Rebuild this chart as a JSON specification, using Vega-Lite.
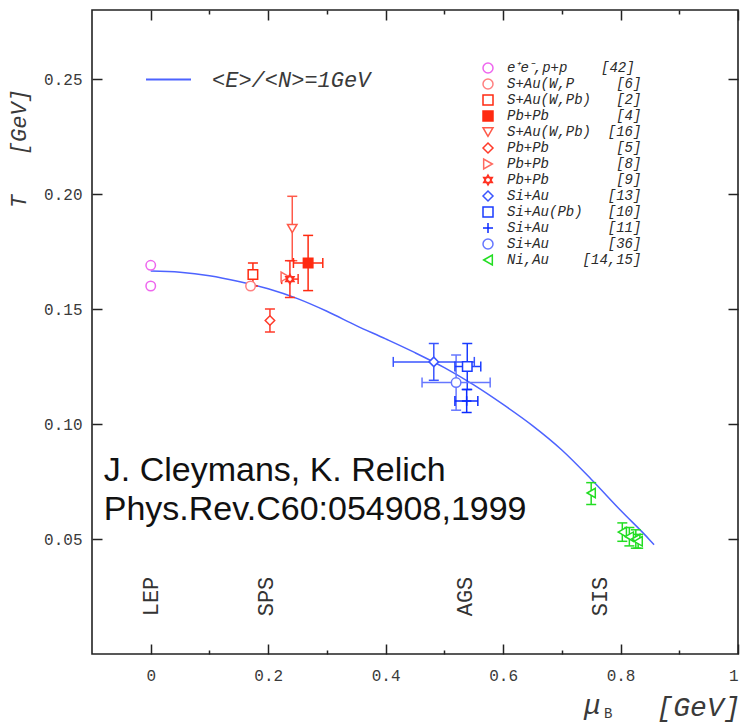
{
  "$schema": "https://vega.github.io/schema/vega-lite/v6.json",
  "width": 646,
  "height": 644,
  "autosize": {"type": "none"},
  "padding": {"left": 92, "top": 10, "right": 2, "bottom": 69},
  "background": "white",
  "config": {
    "view": {"stroke": "#222222", "strokeWidth": 1.6},
    "axis": {
      "domain": false,
      "grid": false,
      "labelFont": "Liberation Mono",
      "labelFontSize": 16,
      "labelColor": "#3a3a3a",
      "tickColor": "#222222",
      "tickWidth": 1.5
    },
    "legend": {
      "title": null,
      "padding": 0,
      "labelFont": "Liberation Mono",
      "labelFontStyle": "italic"
    }
  },
  "datasets": {
    "curve": [
      {"mu": 0.0, "T": 0.1665},
      {"mu": 0.05, "T": 0.166},
      {"mu": 0.1, "T": 0.1645},
      {"mu": 0.15, "T": 0.162},
      {"mu": 0.2, "T": 0.1588},
      {"mu": 0.25, "T": 0.1545},
      {"mu": 0.3, "T": 0.149},
      {"mu": 0.35, "T": 0.1428},
      {"mu": 0.4, "T": 0.137},
      {"mu": 0.45, "T": 0.131},
      {"mu": 0.5, "T": 0.1245},
      {"mu": 0.55, "T": 0.117},
      {"mu": 0.6, "T": 0.1085},
      {"mu": 0.65, "T": 0.0993},
      {"mu": 0.7, "T": 0.0887},
      {"mu": 0.75, "T": 0.076},
      {"mu": 0.8, "T": 0.0625},
      {"mu": 0.85, "T": 0.0495},
      {"mu": 0.857, "T": 0.0475}
    ],
    "points": [
      {"series": "e\u207ae\u207b,p+p\u00a0\u00a0\u00a0\u00a0[42]", "mu": 0.0, "T": 0.169},
      {"series": "e\u207ae\u207b,p+p\u00a0\u00a0\u00a0\u00a0[42]", "mu": 0.0, "T": 0.16},
      {"series": "S+Au(W,P\u00a0\u00a0\u00a0\u00a0\u00a0[6]", "mu": 0.17, "T": 0.16},
      {"series": "S+Au(W,Pb)\u00a0\u00a0\u00a0[2]", "mu": 0.174, "T": 0.165, "tlo": 0.16, "thi": 0.17},
      {"series": "S+Au(W,Pb)\u00a0\u00a0[16]", "mu": 0.241, "T": 0.185, "tlo": 0.171, "thi": 0.199},
      {"series": "Pb+Pb\u00a0\u00a0\u00a0\u00a0\u00a0\u00a0\u00a0\u00a0[5]", "mu": 0.203, "T": 0.145, "tlo": 0.14, "thi": 0.15},
      {"series": "Pb+Pb\u00a0\u00a0\u00a0\u00a0\u00a0\u00a0\u00a0\u00a0[8]", "mu": 0.229, "T": 0.164},
      {"series": "Pb+Pb\u00a0\u00a0\u00a0\u00a0\u00a0\u00a0\u00a0\u00a0[9]", "mu": 0.237, "T": 0.163, "tlo": 0.155, "thi": 0.171, "mulo": 0.223, "muhi": 0.251},
      {"series": "Pb+Pb\u00a0\u00a0\u00a0\u00a0\u00a0\u00a0\u00a0\u00a0[4]", "mu": 0.268, "T": 0.17, "tlo": 0.158, "thi": 0.182, "mulo": 0.243, "muhi": 0.293},
      {"series": "Si+Au\u00a0\u00a0\u00a0\u00a0\u00a0\u00a0\u00a0[13]", "mu": 0.482, "T": 0.127, "tlo": 0.119, "thi": 0.135, "mulo": 0.413, "muhi": 0.551},
      {"series": "Si+Au\u00a0\u00a0\u00a0\u00a0\u00a0\u00a0\u00a0[36]", "mu": 0.52, "T": 0.118, "tlo": 0.106, "thi": 0.13, "mulo": 0.462, "muhi": 0.578},
      {"series": "Si+Au(Pb)\u00a0\u00a0\u00a0[10]", "mu": 0.539, "T": 0.125, "tlo": 0.115, "thi": 0.135, "mulo": 0.518, "muhi": 0.562},
      {"series": "Si+Au\u00a0\u00a0\u00a0\u00a0\u00a0\u00a0\u00a0[11]", "mu": 0.538, "T": 0.11, "tlo": 0.105, "thi": 0.115, "mulo": 0.518, "muhi": 0.557},
      {"series": "Ni,Au\u00a0\u00a0\u00a0\u00a0[14,15]", "mu": 0.75, "T": 0.07, "tlo": 0.065, "thi": 0.0745},
      {"series": "Ni,Au\u00a0\u00a0\u00a0\u00a0[14,15]", "mu": 0.803, "T": 0.053, "tlo": 0.049, "thi": 0.057},
      {"series": "Ni,Au\u00a0\u00a0\u00a0\u00a0[14,15]", "mu": 0.815, "T": 0.051, "tlo": 0.047, "thi": 0.055},
      {"series": "Ni,Au\u00a0\u00a0\u00a0\u00a0[14,15]", "mu": 0.826, "T": 0.05, "tlo": 0.046, "thi": 0.054},
      {"series": "Ni,Au\u00a0\u00a0\u00a0\u00a0[14,15]", "mu": 0.83, "T": 0.049, "tlo": 0.046, "thi": 0.052}
    ],
    "credit": [
      {"text": "J. Cleymans, K. Relich", "mu": -0.08, "T": 0.0795},
      {"text": "Phys.Rev.C60:054908,1999", "mu": -0.08, "T": 0.0628}
    ],
    "machines": [
      {"name": "LEP", "mu": 0.0, "T": 0.025},
      {"name": "SPS", "mu": 0.197, "T": 0.025},
      {"name": "AGS", "mu": 0.535, "T": 0.025},
      {"name": "SIS", "mu": 0.765, "T": 0.025}
    ],
    "symbol": [
      {"text": "\u03bc", "mu": 0.752, "T": -0.0261}
    ],
    "subscript": [
      {"text": "B", "mu": 0.779, "T": -0.0278}
    ]
  },
  "layer": [
    {
      "data": {"name": "curve"},
      "mark": {"type": "line", "strokeWidth": 1.5, "interpolate": "monotone"},
      "encoding": {
        "x": {
          "field": "mu", "type": "quantitative",
          "scale": {"domain": [-0.1, 1.0], "nice": false, "zero": false},
          "axis": {
            "orient": "bottom", "values": [0, 0.2, 0.4, 0.6, 0.8, 1], "format": "~g",
            "ticks": false, "labelPadding": 13,
            "title": "[GeV]", "titleFont": "Liberation Mono", "titleFontStyle": "italic",
            "titleFontWeight": "normal", "titleFontSize": 28, "titleColor": "#3a3a3a",
            "titleAnchor": "end", "titleAlign": "right", "titleX": 648, "titleY": 61, "titleBaseline": "alphabetic"
          }
        },
        "y": {
          "field": "T", "type": "quantitative",
          "scale": {"domain": [0, 0.28], "nice": false, "zero": false},
          "axis": {
            "orient": "left", "values": [0.05, 0.1, 0.15, 0.2, 0.25], "format": ".2f",
            "ticks": false, "labelPadding": 10,
            "title": "T\u00a0\u00a0\u00a0[GeV]", "titleFont": "Liberation Mono", "titleFontStyle": "italic",
            "titleFontWeight": "normal", "titleFontSize": 22, "titleColor": "#3a3a3a",
            "titleAngle": 270, "titleX": -74, "titleY": 138, "titleAlign": "center", "titleBaseline": "middle"
          }
        },
        "color": {
          "datum": "<E>/<N>=1GeV",
          "scale": {"range": ["#4d63ff"]},
          "legend": {
            "orient": "none", "legendX": 53, "legendY": 46,
            "symbolType": "stroke", "symbolSize": 2025, "symbolStrokeWidth": 2,
            "labelFontSize": 22, "labelColor": "#3a3a3a", "labelOffset": 20
          }
        }
      }
    },
    {
      "data": {"name": "points"},
      "transform": [{"filter": "isValid(datum.tlo)"}],
      "mark": {"type": "rule", "strokeWidth": 1.5},
      "encoding": {
        "x": {
          "field": "mu", "type": "quantitative",
          "scale": {"domain": [-0.1, 1.0], "nice": false, "zero": false},
          "axis": {"orient": "bottom", "values": [0, 0.2, 0.4, 0.6, 0.8, 1], "labels": false, "tickSize": -10, "title": null}
        },
        "y": {
          "field": "tlo", "type": "quantitative",
          "scale": {"domain": [0, 0.28], "nice": false, "zero": false},
          "axis": {"orient": "left", "values": [0.05, 0.1, 0.15, 0.2, 0.25], "labels": false, "tickSize": -10, "title": null}
        },
        "y2": {"field": "thi"},
        "stroke": {"field": "series", "type": "nominal"}
      }
    },
    {
      "data": {"name": "points"},
      "transform": [{"filter": "isValid(datum.mulo)"}],
      "mark": {"type": "rule", "strokeWidth": 1.5},
      "encoding": {
        "x": {
          "field": "mulo", "type": "quantitative",
          "scale": {"domain": [-0.1, 1.0], "nice": false, "zero": false},
          "axis": {"orient": "bottom", "values": [0.1, 0.3, 0.5, 0.7, 0.9], "labels": false, "tickSize": -4, "title": null}
        },
        "x2": {"field": "muhi"},
        "y": {
          "field": "T", "type": "quantitative",
          "scale": {"domain": [0, 0.28], "nice": false, "zero": false},
          "axis": {"orient": "right", "values": [0.05, 0.1, 0.15, 0.2, 0.25], "labels": false, "tickSize": -10, "title": null}
        },
        "stroke": {"field": "series", "type": "nominal"}
      }
    },
    {
      "data": {"name": "points"},
      "transform": [{"filter": "isValid(datum.tlo)"}],
      "mark": {"type": "point", "shape": "stroke", "size": 100, "strokeWidth": 1.5, "opacity": 1},
      "encoding": {
        "x": {
          "field": "mu", "type": "quantitative",
          "scale": {"domain": [-0.1, 1.0], "nice": false, "zero": false},
          "axis": {"orient": "top", "values": [0, 0.2, 0.4, 0.6, 0.8, 1], "labels": false, "tickSize": -10, "title": null}
        },
        "y": {"field": "tlo", "type": "quantitative", "scale": {"domain": [0, 0.28], "nice": false, "zero": false}, "axis": null},
        "stroke": {"field": "series", "type": "nominal"}
      }
    },
    {
      "data": {"name": "points"},
      "transform": [{"filter": "isValid(datum.thi)"}],
      "mark": {"type": "point", "shape": "stroke", "size": 100, "strokeWidth": 1.5, "opacity": 1},
      "encoding": {
        "x": {
          "field": "mu", "type": "quantitative",
          "scale": {"domain": [-0.1, 1.0], "nice": false, "zero": false},
          "axis": {"orient": "top", "values": [0.1, 0.3, 0.5, 0.7, 0.9], "labels": false, "tickSize": -4, "title": null}
        },
        "y": {"field": "thi", "type": "quantitative", "scale": {"domain": [0, 0.28], "nice": false, "zero": false}, "axis": null},
        "stroke": {"field": "series", "type": "nominal"}
      }
    },
    {
      "data": {"name": "points"},
      "transform": [{"filter": "isValid(datum.mulo)"}],
      "mark": {"type": "point", "shape": "M0,-1L0,1", "size": 100, "strokeWidth": 1.5, "opacity": 1},
      "encoding": {
        "x": {"field": "mulo", "type": "quantitative", "scale": {"domain": [-0.1, 1.0], "nice": false, "zero": false}, "axis": null},
        "y": {"field": "T", "type": "quantitative", "scale": {"domain": [0, 0.28], "nice": false, "zero": false}, "axis": null},
        "stroke": {"field": "series", "type": "nominal"}
      }
    },
    {
      "data": {"name": "points"},
      "transform": [{"filter": "isValid(datum.muhi)"}],
      "mark": {"type": "point", "shape": "M0,-1L0,1", "size": 100, "strokeWidth": 1.5, "opacity": 1},
      "encoding": {
        "x": {"field": "muhi", "type": "quantitative", "scale": {"domain": [-0.1, 1.0], "nice": false, "zero": false}, "axis": null},
        "y": {"field": "T", "type": "quantitative", "scale": {"domain": [0, 0.28], "nice": false, "zero": false}, "axis": null},
        "stroke": {"field": "series", "type": "nominal"}
      }
    },
    {
      "data": {"name": "points"},
      "mark": {"type": "point", "size": 90, "strokeWidth": 1.5, "opacity": 1},
      "encoding": {
        "x": {"field": "mu", "type": "quantitative", "scale": {"domain": [-0.1, 1.0], "nice": false, "zero": false}, "axis": null},
        "y": {"field": "T", "type": "quantitative", "scale": {"domain": [0, 0.28], "nice": false, "zero": false}, "axis": null},
        "stroke": {
          "field": "series", "type": "nominal",
          "scale": {
            "domain": [
              "e\u207ae\u207b,p+p\u00a0\u00a0\u00a0\u00a0[42]",
              "S+Au(W,P\u00a0\u00a0\u00a0\u00a0\u00a0[6]",
              "S+Au(W,Pb)\u00a0\u00a0\u00a0[2]",
              "Pb+Pb\u00a0\u00a0\u00a0\u00a0\u00a0\u00a0\u00a0\u00a0[4]",
              "S+Au(W,Pb)\u00a0\u00a0[16]",
              "Pb+Pb\u00a0\u00a0\u00a0\u00a0\u00a0\u00a0\u00a0\u00a0[5]",
              "Pb+Pb\u00a0\u00a0\u00a0\u00a0\u00a0\u00a0\u00a0\u00a0[8]",
              "Pb+Pb\u00a0\u00a0\u00a0\u00a0\u00a0\u00a0\u00a0\u00a0[9]",
              "Si+Au\u00a0\u00a0\u00a0\u00a0\u00a0\u00a0\u00a0[13]",
              "Si+Au(Pb)\u00a0\u00a0\u00a0[10]",
              "Si+Au\u00a0\u00a0\u00a0\u00a0\u00a0\u00a0\u00a0[11]",
              "Si+Au\u00a0\u00a0\u00a0\u00a0\u00a0\u00a0\u00a0[36]",
              "Ni,Au\u00a0\u00a0\u00a0\u00a0[14,15]"
            ],
            "range": ["#ee66ee", "#ff8080", "#ff2a10", "#ff2a10", "#ff5a4a", "#ff3a2a", "#ff6a60", "#ff3020", "#3a55ff", "#1a3cff", "#0a2aff", "#6677ff", "#22dd22"]
          },
          "legend": {
            "orient": "none", "legendX": 389, "legendY": 51,
            "symbolSize": 100, "symbolStrokeWidth": 1.5, "rowPadding": 0,
            "labelFontSize": 14, "labelColor": "#2a2a2a", "labelOffset": 12
          }
        },
        "fill": {
          "field": "series", "type": "nominal",
          "scale": {
            "domain": [
              "e\u207ae\u207b,p+p\u00a0\u00a0\u00a0\u00a0[42]",
              "S+Au(W,P\u00a0\u00a0\u00a0\u00a0\u00a0[6]",
              "S+Au(W,Pb)\u00a0\u00a0\u00a0[2]",
              "Pb+Pb\u00a0\u00a0\u00a0\u00a0\u00a0\u00a0\u00a0\u00a0[4]",
              "S+Au(W,Pb)\u00a0\u00a0[16]",
              "Pb+Pb\u00a0\u00a0\u00a0\u00a0\u00a0\u00a0\u00a0\u00a0[5]",
              "Pb+Pb\u00a0\u00a0\u00a0\u00a0\u00a0\u00a0\u00a0\u00a0[8]",
              "Pb+Pb\u00a0\u00a0\u00a0\u00a0\u00a0\u00a0\u00a0\u00a0[9]",
              "Si+Au\u00a0\u00a0\u00a0\u00a0\u00a0\u00a0\u00a0[13]",
              "Si+Au(Pb)\u00a0\u00a0\u00a0[10]",
              "Si+Au\u00a0\u00a0\u00a0\u00a0\u00a0\u00a0\u00a0[11]",
              "Si+Au\u00a0\u00a0\u00a0\u00a0\u00a0\u00a0\u00a0[36]",
              "Ni,Au\u00a0\u00a0\u00a0\u00a0[14,15]"
            ],
            "range": ["white", "white", "white", "#ff2a10", "white", "white", "white", "white", "white", "white", "white", "white", "white"]
          },
          "legend": {
            "orient": "none", "legendX": 389, "legendY": 51,
            "symbolSize": 100, "symbolStrokeWidth": 1.5, "rowPadding": 0,
            "labelFontSize": 14, "labelColor": "#2a2a2a", "labelOffset": 12
          }
        },
        "shape": {
          "field": "series", "type": "nominal",
          "scale": {
            "domain": [
              "e\u207ae\u207b,p+p\u00a0\u00a0\u00a0\u00a0[42]",
              "S+Au(W,P\u00a0\u00a0\u00a0\u00a0\u00a0[6]",
              "S+Au(W,Pb)\u00a0\u00a0\u00a0[2]",
              "Pb+Pb\u00a0\u00a0\u00a0\u00a0\u00a0\u00a0\u00a0\u00a0[4]",
              "S+Au(W,Pb)\u00a0\u00a0[16]",
              "Pb+Pb\u00a0\u00a0\u00a0\u00a0\u00a0\u00a0\u00a0\u00a0[5]",
              "Pb+Pb\u00a0\u00a0\u00a0\u00a0\u00a0\u00a0\u00a0\u00a0[8]",
              "Pb+Pb\u00a0\u00a0\u00a0\u00a0\u00a0\u00a0\u00a0\u00a0[9]",
              "Si+Au\u00a0\u00a0\u00a0\u00a0\u00a0\u00a0\u00a0[13]",
              "Si+Au(Pb)\u00a0\u00a0\u00a0[10]",
              "Si+Au\u00a0\u00a0\u00a0\u00a0\u00a0\u00a0\u00a0[11]",
              "Si+Au\u00a0\u00a0\u00a0\u00a0\u00a0\u00a0\u00a0[36]",
              "Ni,Au\u00a0\u00a0\u00a0\u00a0[14,15]"
            ],
            "range": [
              "circle", "circle", "square", "square", "triangle-down", "diamond", "triangle-right",
              "M0,-1L0.866,0.5L-0.866,0.5ZM0,1L-0.866,-0.5L0.866,-0.5Z",
              "diamond", "square", "M-1,0L1,0M0,-1L0,1", "circle", "triangle-left"
            ]
          },
          "legend": {
            "orient": "none", "legendX": 389, "legendY": 51,
            "symbolSize": 100, "symbolStrokeWidth": 1.5, "rowPadding": 0,
            "labelFontSize": 14, "labelColor": "#2a2a2a", "labelOffset": 12
          }
        }
      }
    },
    {
      "data": {"name": "credit"},
      "mark": {"type": "text", "font": "Liberation Sans", "fontSize": 34, "align": "left", "baseline": "middle", "color": "#111111"},
      "encoding": {
        "x": {"field": "mu", "type": "quantitative", "scale": {"domain": [-0.1, 1.0], "nice": false, "zero": false}, "axis": null},
        "y": {"field": "T", "type": "quantitative", "scale": {"domain": [0, 0.28], "nice": false, "zero": false}, "axis": null},
        "text": {"field": "text"}
      }
    },
    {
      "data": {"name": "machines"},
      "mark": {"type": "text", "font": "Liberation Mono", "fontSize": 22, "angle": 270, "align": "center", "baseline": "middle", "color": "#333333"},
      "encoding": {
        "x": {"field": "mu", "type": "quantitative", "scale": {"domain": [-0.1, 1.0], "nice": false, "zero": false}, "axis": null},
        "y": {"field": "T", "type": "quantitative", "scale": {"domain": [0, 0.28], "nice": false, "zero": false}, "axis": null},
        "text": {"field": "name"}
      }
    },
    {
      "data": {"name": "symbol"},
      "mark": {"type": "text", "font": "Liberation Mono", "fontStyle": "italic", "fontSize": 28, "align": "center", "baseline": "alphabetic", "color": "#3a3a3a"},
      "encoding": {
        "x": {"field": "mu", "type": "quantitative", "scale": {"domain": [-0.1, 1.0], "nice": false, "zero": false}, "axis": null},
        "y": {"field": "T", "type": "quantitative", "scale": {"domain": [0, 0.28], "nice": false, "zero": false}, "axis": null},
        "text": {"field": "text"}
      }
    },
    {
      "data": {"name": "subscript"},
      "mark": {"type": "text", "font": "Liberation Mono", "fontSize": 14, "align": "center", "baseline": "alphabetic", "color": "#3a3a3a"},
      "encoding": {
        "x": {"field": "mu", "type": "quantitative", "scale": {"domain": [-0.1, 1.0], "nice": false, "zero": false}, "axis": null},
        "y": {"field": "T", "type": "quantitative", "scale": {"domain": [0, 0.28], "nice": false, "zero": false}, "axis": null},
        "text": {"field": "text"}
      }
    }
  ],
  "resolve": {"axis": {"x": "independent", "y": "independent"}}
}
